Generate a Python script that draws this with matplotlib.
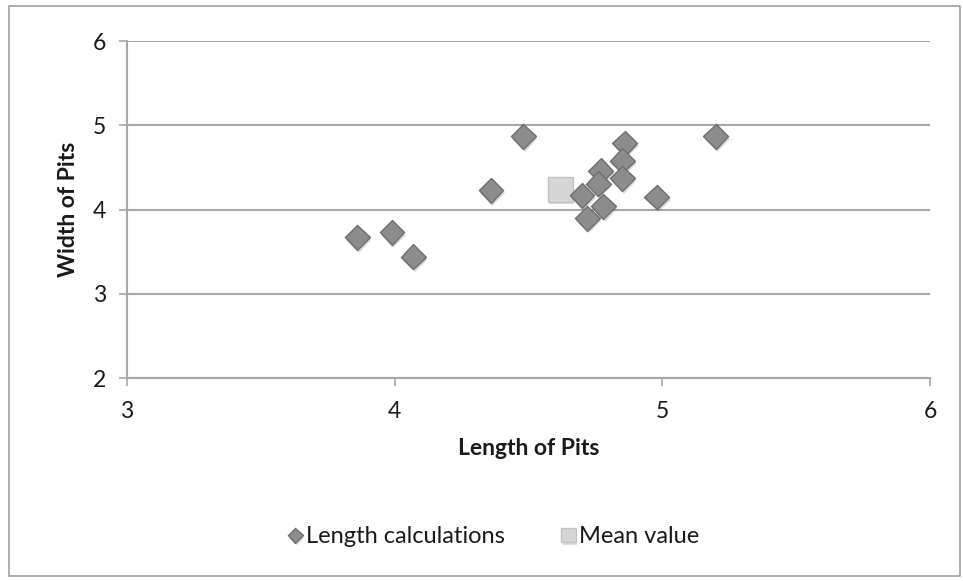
import matplotlib.pyplot as plt
import matplotlib.patheffects as pe
from matplotlib.patches import Rectangle

plt.rcParams['font.family'] = ['Lato', 'DejaVu Sans']

# Measured pit dimensions
length_pits = [3.86, 3.99, 4.07, 4.36, 4.48, 4.86, 4.85, 4.85, 4.77, 4.76,
               4.70, 4.78, 4.72, 4.98, 5.20]
width_pits = [3.67, 3.73, 3.44, 4.23, 4.87, 4.79, 4.58, 4.37, 4.46, 4.31,
              4.17, 4.04, 3.90, 4.15, 4.87]
mean_length = [4.62]
mean_width = [4.24]

x_ticks = [3, 4, 5, 6]
y_ticks = [2, 3, 4, 5, 6]

grid_col = '#a8a8a8'
text_col = '#1a1a1a'

fig = plt.figure(figsize=(9.63, 5.81), dpi=100)
ax = fig.add_axes([0.1319, 0.3489, 0.8338, 0.5805])

shadow = [pe.SimplePatchShadow(offset=(1, -2), alpha=0.18), pe.Normal()]

ax.plot(length_pits, width_pits, linestyle='none', marker='D', markersize=12.7,
        markerfacecolor='#8c8c8c', markeredgecolor='#6e6e6e', markeredgewidth=1.0,
        label='Length calculations', zorder=3, path_effects=shadow)
ax.plot(mean_length, mean_width, linestyle='none', marker='s', markersize=17.5,
        markerfacecolor='#d6d6d6', markeredgecolor='#c2c2c2', markeredgewidth=1.0,
        label='Mean value', zorder=2, path_effects=shadow)

ax.set_xlim(3, 6)
ax.set_ylim(2, 6)
ax.set_xticks(x_ticks)
ax.set_yticks(y_ticks)
ax.tick_params(axis='both', direction='out', length=6, width=1.2, color=grid_col,
               labelsize=16.5, labelcolor=text_col)
ax.tick_params(axis='x', pad=10)
ax.tick_params(axis='y', pad=9)

ax.grid(True, axis='y', color=grid_col, linewidth=1.5)
ax.set_axisbelow(True)
for side in ['top', 'right']:
    ax.spines[side].set_visible(False)
for side in ['left', 'bottom']:
    ax.spines[side].set_color(grid_col)
    ax.spines[side].set_linewidth(1.5)

ax.set_xlabel('Length of Pits', fontsize=16.5, fontweight='bold', color=text_col,
              labelpad=12)
ax.set_ylabel('Width of Pits', fontsize=16.5, fontweight='bold', color=text_col,
              labelpad=10)

leg = fig.legend(loc='center', bbox_to_anchor=(0.513, 0.076), ncol=2,
                 frameon=False, fontsize=17, markerscale=0.6, handlelength=0.6,
                 handletextpad=0.15, columnspacing=2.4)
for t in leg.get_texts():
    t.set_color(text_col)

# chart border
fig.patches.append(Rectangle((0.009, 0.008), 0.988, 0.982, transform=fig.transFigure,
                             fill=False, edgecolor='#a0a0a0', linewidth=1.2))

fig.savefig('out.png', dpi=100)
